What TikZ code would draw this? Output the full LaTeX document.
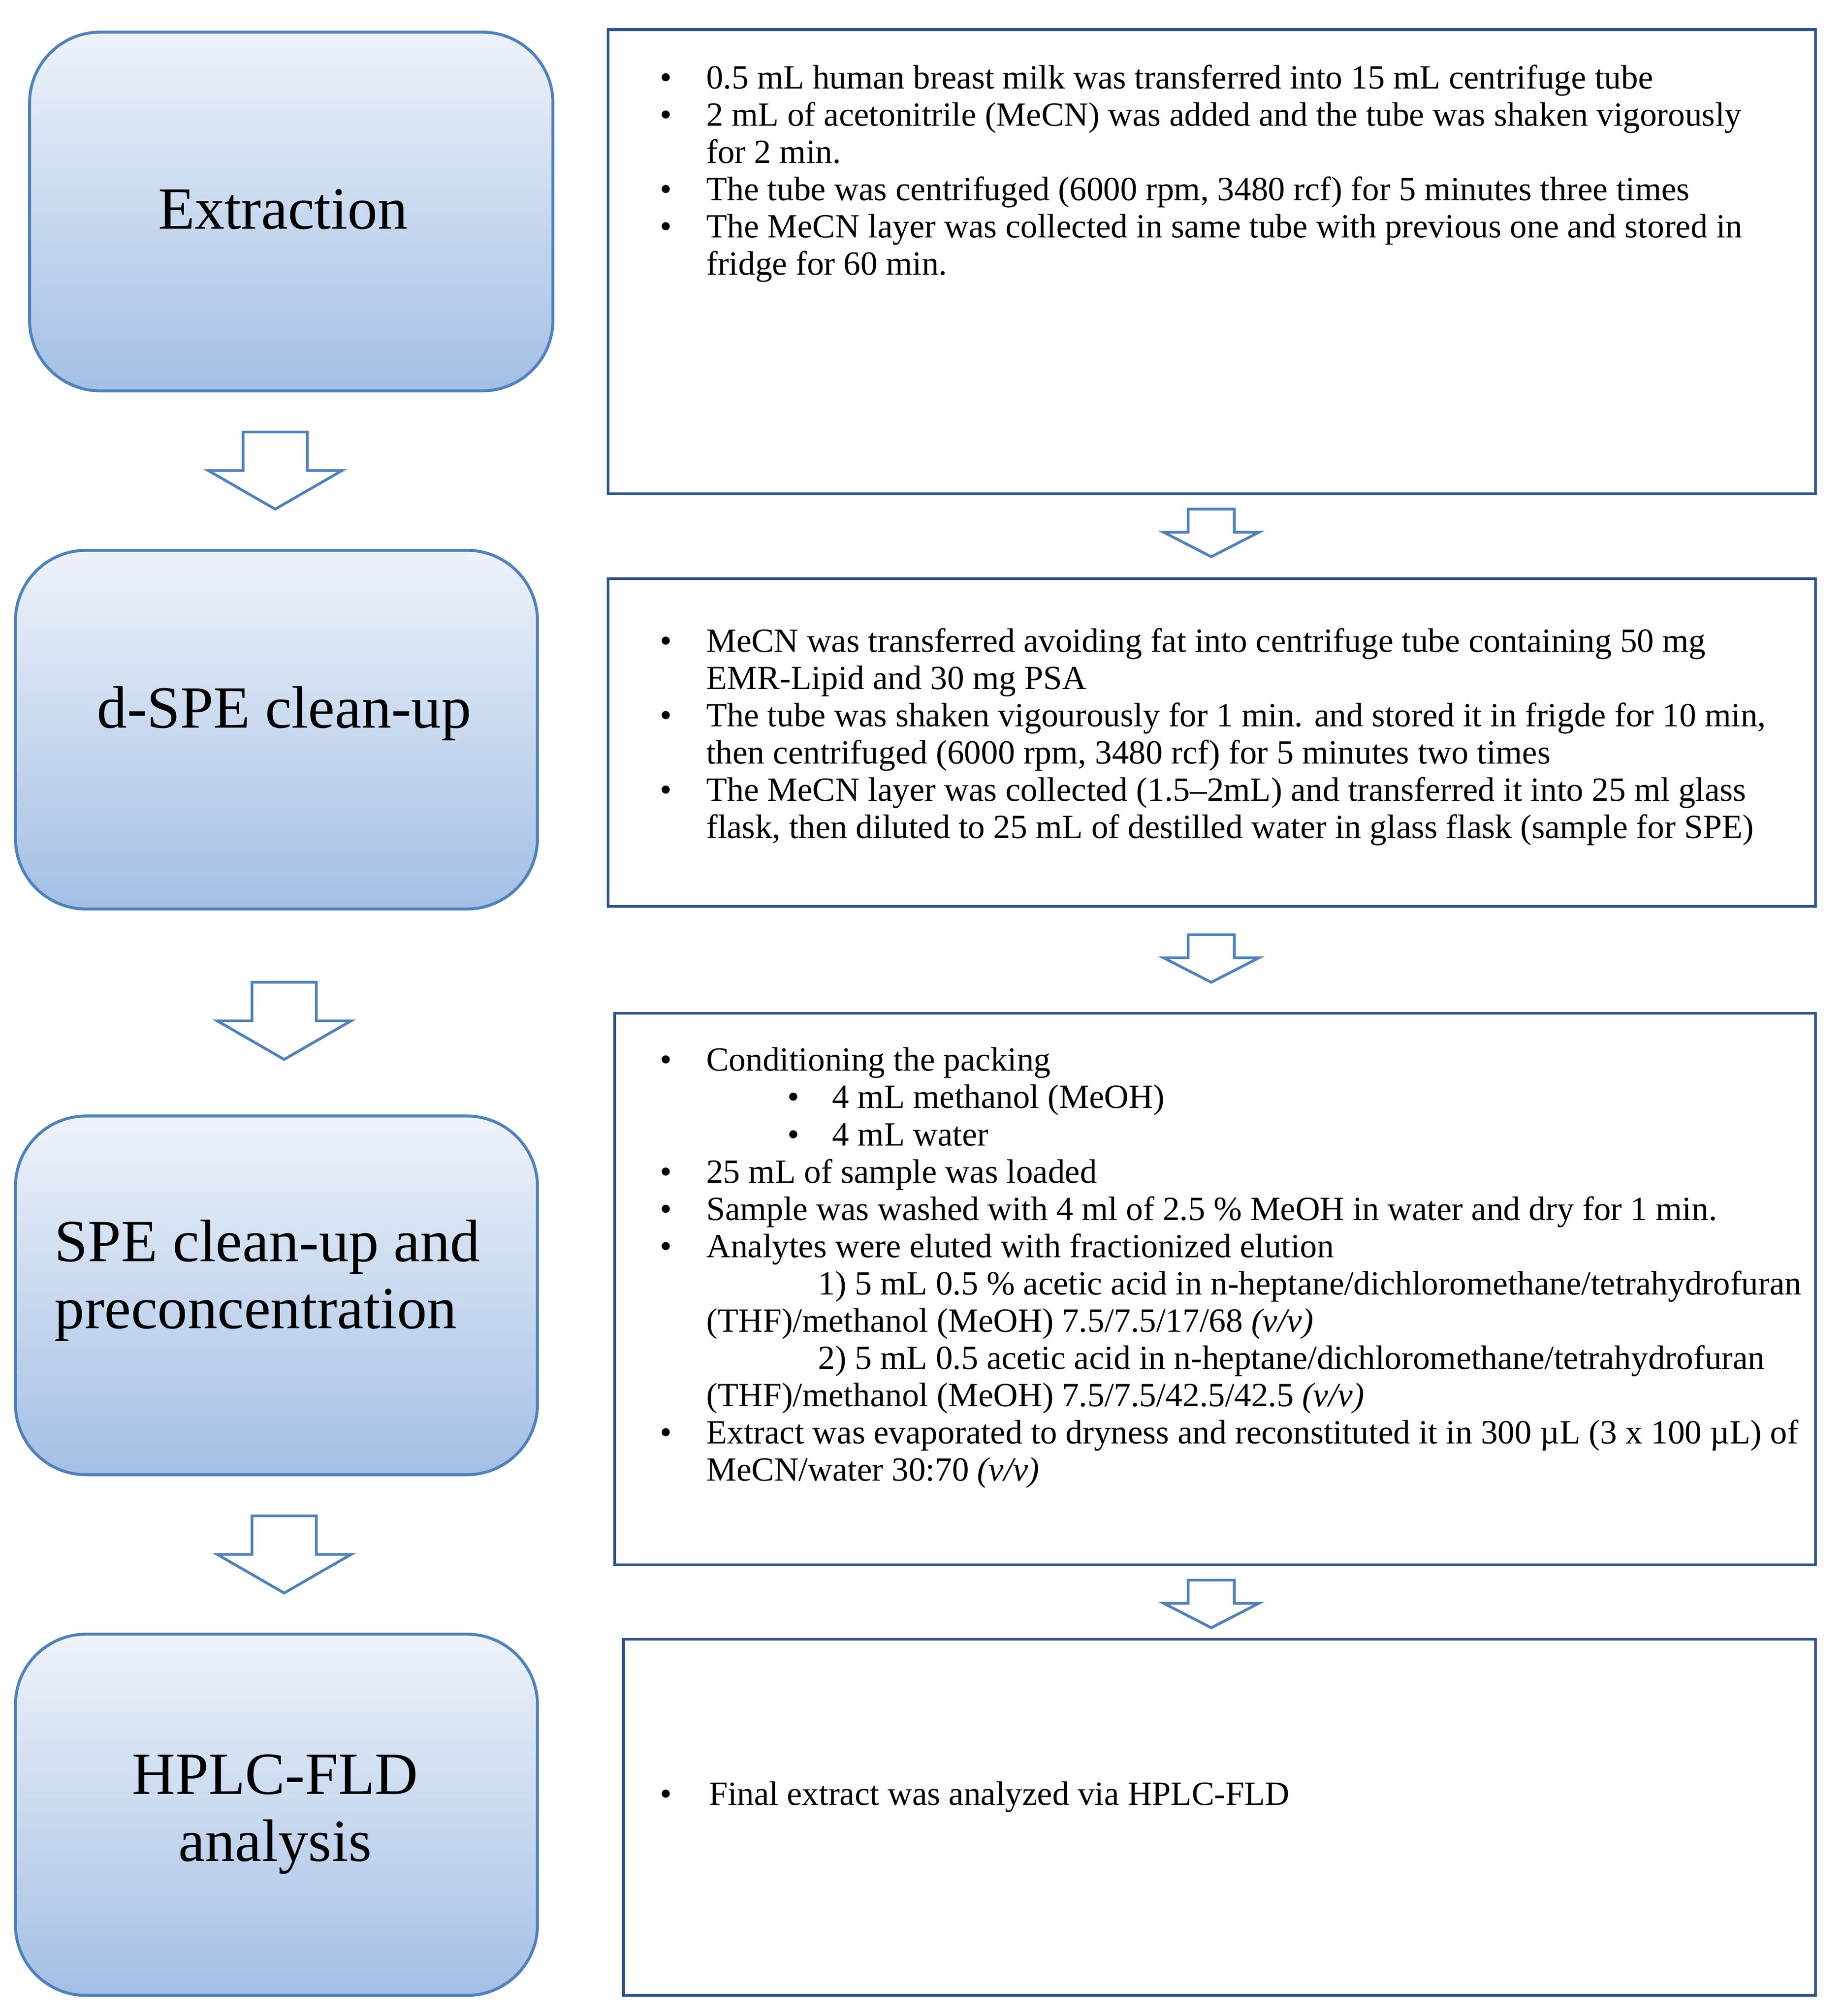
\documentclass[tikz,border=0pt]{standalone}
\usepackage{fontspec}
\setmainfont{Liberation Serif}
\usetikzlibrary{shapes.geometric}
\definecolor{lb}{HTML}{4F81BD}
\definecolor{rb}{HTML}{2F528F}
\definecolor{gtop}{HTML}{EEF3FA}
\definecolor{gbot}{HTML}{A3BFE5}
\newcommand{\bu}{\textbullet}
\newcommand{\sub}[1]{\hspace{1.26cm}\makebox[0.7cm][l]{\textbullet}#1}
\tikzset{
 lbox/.style={draw=lb,line width=1.3pt,rounded corners=1.1cm,top color=gtop,bottom color=gbot},
 rbox/.style={draw=rb,line width=1.2pt},
 arr/.style={draw=lb,line width=1.2pt,fill=white},
 ttl/.style={font=\fontsize{26.5}{29.6}\selectfont,align=center},
 txt/.style={anchor=base west,inner sep=0pt,font=\fontsize{15}{16.5}\selectfont}
}
\begin{document}
\begin{tikzpicture}[x=0.02cm,y=-0.02cm]
\useasboundingbox (0,0) rectangle (1434,1568);
% left boxes
\draw[lbox] (23,25) rectangle (430,304);
\node[ttl] (t1) at (220,163) {Extraction};
\draw[lbox] (12,428) rectangle (418,707);
\node[ttl] (t2) at (221,555) {d-SPE clean-up};
\draw[lbox] (12,868) rectangle (418,1147);
\node[ttl,align=left] (t3) at (208,996) {SPE clean-up and\\preconcentration};
\draw[lbox] (12,1271) rectangle (418,1552);
\node[ttl] (t4) at (214,1411) {HPLC-FLD\\analysis};
% left arrows
\foreach \cx/\ya in {214/336,221/764,221/1179}{
 \draw[arr] (\cx-25,\ya) -- (\cx+25,\ya) -- (\cx+25,\ya+30) -- (\cx+52,\ya+30) -- (\cx,\ya+60) -- (\cx-52,\ya+30) -- (\cx-25,\ya+30) -- cycle;
}
% right arrows
\foreach \ya in {396,727,1229}{
 \draw[arr] (942-18,\ya) -- (942+18,\ya) -- (942+18,\ya+18) -- (942+37,\ya+18) -- (942,\ya+37) -- (942-37,\ya+18) -- (942-18,\ya+18) -- cycle;
}
% right boxes
\draw[rbox] (473,23) rectangle (1412,384);
\draw[rbox] (473,450) rectangle (1412,705);
\draw[rbox] (478,788) rectangle (1412,1217);
\draw[rbox] (485,1275) rectangle (1412,1552);
\node[txt] (x1) at (513,69) {\begin{tabular}[t]{@{}p{0.72cm}@{}l@{}}
\bu & 0.5 mL human breast milk was transferred into 15 mL centrifuge tube\\
\bu & 2 mL of acetonitrile (MeCN) was added and the tube was shaken vigorously\\
 & for 2 min.\\
\bu & The tube was centrifuged (6000 rpm, 3480 rcf) for 5 minutes three times\\
\bu & The MeCN layer was collected in same tube with previous one and stored in\\
 & fridge for 60 min.
\end{tabular}};
\node[txt] (x2) at (513,507) {\begin{tabular}[t]{@{}p{0.72cm}@{}l@{}}
\bu & MeCN was transferred avoiding fat into centrifuge tube containing 50 mg\\
 & EMR-Lipid and 30 mg PSA\\
\bu & The tube was shaken vigourously for 1 min. and stored it in frigde for 10 min,\\
 & then centrifuged (6000 rpm, 3480 rcf) for 5 minutes two times\\
\bu & The MeCN layer was collected (1.5--2mL) and transferred it into 25 ml glass\\
 & flask, then diluted to 25 mL of destilled water in glass flask (sample for SPE)
\end{tabular}};
\node[txt] (x3) at (513,833) {\begin{tabular}[t]{@{}p{0.72cm}@{}l@{}}
\bu & Conditioning the packing\\
 & \sub{4 mL methanol (MeOH)}\\
 & \sub{4 mL water}\\
\bu & 25 mL of sample was loaded\\
\bu & Sample was washed with 4 ml of 2.5 \% MeOH in water and dry for 1 min.\\
\bu & Analytes were eluted with fractionized elution\\
 & \hspace{1.74cm}1) 5 mL 0.5 \% acetic acid in n-heptane/dichloromethane/tetrahydrofuran\\
 & (THF)/methanol (MeOH) 7.5/7.5/17/68 \textit{(v/v)}\\
 & \hspace{1.74cm}2) 5 mL 0.5 acetic acid in n-heptane/dichloromethane/tetrahydrofuran\\
 & (THF)/methanol (MeOH) 7.5/7.5/42.5/42.5 \textit{(v/v)}\\
\bu & Extract was evaporated to dryness and reconstituted it in 300 µL (3 x 100 µL) of\\
 & MeCN/water 30:70 \textit{(v/v)}
\end{tabular}};
\node[txt] (x4) at (513,1404) {\begin{tabular}[t]{@{}p{0.76cm}@{}l@{}}
\bu & Final extract was analyzed via HPLC-FLD
\end{tabular}};
\end{tikzpicture}
\end{document}
